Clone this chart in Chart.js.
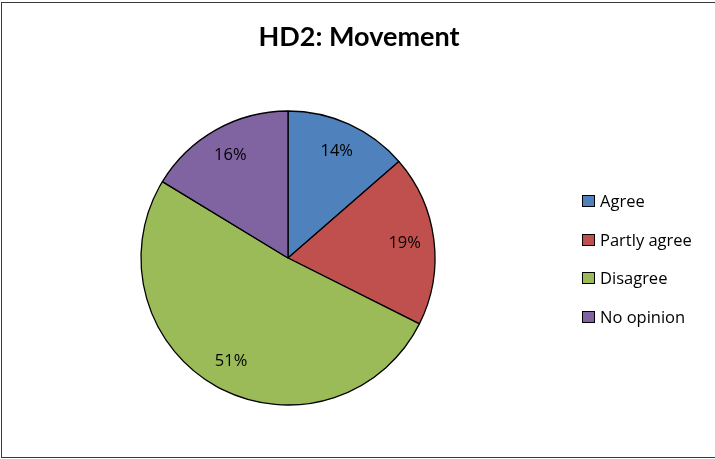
<!DOCTYPE html>
<html>
<head>
<meta charset="utf-8">
<script src="https://cdn.jsdelivr.net/npm/chart.js@4.4.1/dist/chart.umd.min.js"></script>
<style>
  html, body { margin: 0; padding: 0; background: #fff; }
  #wrap { width: 715px; height: 459px; position: relative; }
</style>
</head>
<body>
<div id="wrap"><canvas id="pieChart"></canvas></div>
<script>
'use strict';

// ── DATA ──
const TITLE = 'HD2: Movement';
const categories = ['Agree', 'Partly agree', 'Disagree', 'No opinion'];
const shares = [13.6, 18.8, 51.3, 16.3];   // % per slice
const colors = ['#4F81BD', '#C0504D', '#9BBB59', '#8064A2'];

const LABEL_FONT = '16.5px "Open Sans", "Noto Sans", sans-serif';

// ── TITLE, LEGEND, SLICE LABELS, FRAME ──
const excelDecor = {
  id: 'excelDecor',
  afterDatasetsDraw(chart) {
    const ctx = chart.ctx;
    const meta = chart.getDatasetMeta(0);
    ctx.save();
    ctx.font = LABEL_FONT;
    ctx.fillStyle = '#000';
    ctx.textAlign = 'center';
    ctx.textBaseline = 'middle';
    meta.data.forEach((arc, i) => {
      const p = arc.getProps(['x', 'y', 'startAngle', 'endAngle', 'outerRadius'], true);
      const mid = (p.startAngle + p.endAngle) / 2;
      const r = p.outerRadius * 0.8;
      ctx.fillText(Math.round(shares[i]) + '%', p.x + Math.cos(mid) * r, p.y + Math.sin(mid) * r);
    });
    ctx.restore();
  },
  afterDraw(chart) {
    const ctx = chart.ctx;
    ctx.save();

    // title
    ctx.font = 'bold 27px Lato, "Open Sans", sans-serif';
    ctx.fillStyle = '#000';
    ctx.textAlign = 'center';
    ctx.textBaseline = 'alphabetic';
    ctx.fillText(TITLE, 359, 46);

    // legend
    ctx.font = LABEL_FONT;
    ctx.textAlign = 'left';
    categories.forEach((c, i) => {
      const base = Math.round(207 + i * 38.5);
      ctx.fillStyle = colors[i];
      ctx.fillRect(582.5, base - 11.5, 12, 11);
      ctx.strokeStyle = '#000';
      ctx.lineWidth = 1;
      ctx.strokeRect(582.5, base - 11.5, 12, 11);
      ctx.fillStyle = '#000';
      ctx.fillText(c, 600, base);
    });

    // chart frame (right edge is cropped in the original)
    ctx.strokeStyle = '#3a3a3a';
    ctx.lineWidth = 1;
    ctx.strokeRect(1.5, 2.5, 740, 455);
    ctx.restore();
  }
};

new Chart(document.getElementById('pieChart'), {
  type: 'pie',
  data: {
    labels: categories,
    datasets: [{
      data: shares,
      backgroundColor: colors,
      borderColor: '#000',
      borderWidth: 1.3,
      hoverOffset: 0
    }]
  },
  options: {
    responsive: true,
    maintainAspectRatio: false,
    animation: false,
    radius: 147,
    layout: { padding: { left: 138, right: 277, top: 106, bottom: 49 } },
    plugins: {
      legend: { display: false },
      tooltip: { enabled: false },
      title: { display: false }
    }
  },
  plugins: [excelDecor]
});
</script>
</body>
</html>
